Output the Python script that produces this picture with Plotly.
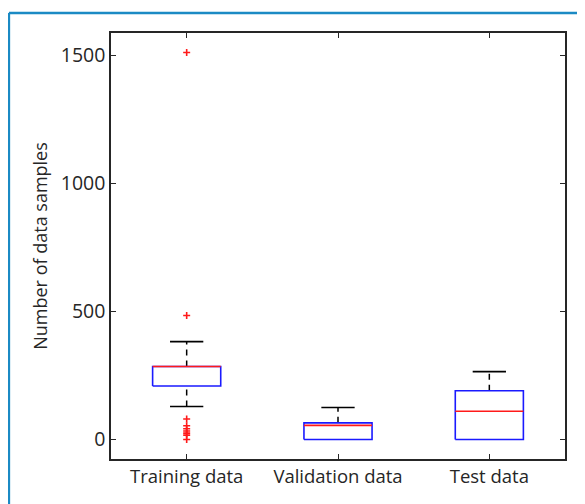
import plotly.graph_objects as go

# ---- data ----
categories = ["Training data", "Validation data", "Test data"]
lower_whisker = [129, 0, 0]
q1 = [209, 0, 0]
median = [285, 55, 110]
q3 = [285, 65, 190]
upper_whisker = [382, 125, 265]
outliers = [[1510, 484, 80, 54, 42, 33, 25, 17, 0], [], []]

y_ticks = [0, 500, 1000, 1500]
y_range = [-76, 1586]

# ---- style ----
BOX_W = 0.45
CAP_W = 0.22
BLUE = "#1a1aff"
RED = "#ff1a1a"
BLACK = "#000000"
AX = "#262626"
FONT = "Open Sans"

fig = go.Figure()
xs = list(range(1, len(categories) + 1))
for i, x in enumerate(xs):
    # whiskers (dashed)
    if upper_whisker[i] > q3[i]:
        fig.add_trace(go.Scatter(x=[x, x], y=[q3[i], upper_whisker[i]], mode="lines",
                                 line=dict(color=BLACK, width=1.5, dash="6px,5px"),
                                 showlegend=False, hoverinfo="skip"))
    if lower_whisker[i] < q1[i]:
        fig.add_trace(go.Scatter(x=[x, x], y=[lower_whisker[i], q1[i]], mode="lines",
                                 line=dict(color=BLACK, width=1.5, dash="6px,5px"),
                                 showlegend=False, hoverinfo="skip"))
    # caps
    for v in (upper_whisker[i], lower_whisker[i]):
        if v == q1[i] or v == q3[i]:
            continue
        fig.add_trace(go.Scatter(x=[x - CAP_W / 2, x + CAP_W / 2], y=[v, v], mode="lines",
                                 line=dict(color=BLACK, width=1.6),
                                 showlegend=False, hoverinfo="skip"))
    # box
    fig.add_trace(go.Scatter(
        x=[x - BOX_W / 2, x + BOX_W / 2, x + BOX_W / 2, x - BOX_W / 2, x - BOX_W / 2],
        y=[q1[i], q1[i], q3[i], q3[i], q1[i]], mode="lines",
        line=dict(color=BLUE, width=1.6), showlegend=False, hoverinfo="skip"))
    # median
    fig.add_trace(go.Scatter(x=[x - BOX_W / 2, x + BOX_W / 2], y=[median[i], median[i]],
                             mode="lines", line=dict(color=RED, width=1.6),
                             showlegend=False, hoverinfo="skip"))
    # outliers
    if outliers[i]:
        fig.add_trace(go.Scatter(x=[x] * len(outliers[i]), y=outliers[i], mode="markers",
                                 marker=dict(symbol="cross-thin", size=5,
                                             line=dict(color=RED, width=1.6)),
                                 showlegend=False, hoverinfo="skip"))

# page has an 8px body margin, so the figure is 8px smaller and shifted
W, H = 577, 496
L, R, T, B = 103, 20, 24.5, 45
pw, ph = W - L - R, H - T - B


def px_x(p):
    return (p - L) / pw


def px_y(p):
    return (H - B - p) / ph


# blue frame (left and top edges)
frame = "#1b8ac4"
fig.add_shape(type="line", xref="paper", yref="paper",
              x0=px_x(0.9), x1=px_x(0.9), y0=px_y(520), y1=px_y(4.5),
              line=dict(color=frame, width=2.5))
fig.add_shape(type="line", xref="paper", yref="paper",
              x0=px_x(0.9), x1=px_x(600), y0=px_y(4.5), y1=px_y(4.5),
              line=dict(color=frame, width=2.5))

fig.update_layout(
    width=W, height=H,
    margin=dict(l=L, r=R, t=T, b=B, pad=0),
    paper_bgcolor="white", plot_bgcolor="white",
    font=dict(family=FONT, size=19, color=AX),
    xaxis=dict(range=[0.5, 3.5], tickmode="array", tickvals=xs, ticktext=categories,
               ticks="inside", ticklen=5, tickwidth=1.2, tickcolor=AX,
               showline=True, linecolor=AX, linewidth=1.5, mirror="ticks",
               showgrid=False, zeroline=False, tickfont=dict(size=18.5, color=AX)),
    yaxis=dict(range=y_range, tickmode="array", tickvals=y_ticks,
               ticks="inside", ticklen=5, tickwidth=1.2, tickcolor=AX,
               showline=True, linecolor=AX, linewidth=1.5, mirror="ticks",
               showgrid=False, zeroline=False, tickfont=dict(size=19.5, color=AX),
               title=dict(text="Number of data samples", font=dict(size=18, color=AX),
                          standoff=8)),
)

fig.write_html("out.html")
